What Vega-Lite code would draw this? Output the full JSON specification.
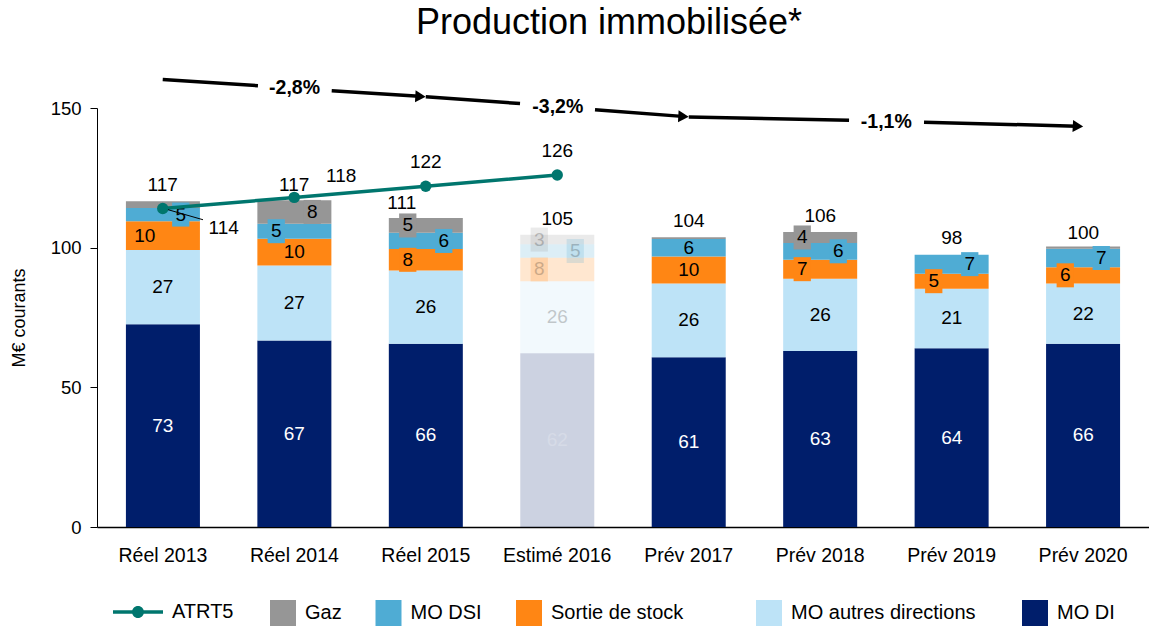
{
  "$schema": "https://vega.github.io/schema/vega-lite/v6.json",
  "width": 1052,
  "height": 419,
  "autosize": {"type": "none"},
  "padding": {"left": 97, "top": 108, "right": 0, "bottom": 99},
  "background": "white",
  "config": {
    "font": "Liberation Sans",
    "view": {"stroke": null},
    "text": {"font": "Liberation Sans"}
  },
  "title": {
    "text": "Production immobilisée*",
    "fontSize": 36,
    "fontWeight": "normal",
    "color": "#000000",
    "font": "Liberation Sans",
    "anchor": "middle",
    "dx": -14,
    "offset": 36
  },
  "datasets": {
    "barres": [
      {"annee": "Réel 2013", "serie": "MO DI", "rang": 1, "valeur": 72.6},
      {"annee": "Réel 2013", "serie": "MO autres directions", "rang": 2, "valeur": 26.6},
      {"annee": "Réel 2013", "serie": "Sortie de stock", "rang": 3, "valeur": 10.3},
      {"annee": "Réel 2013", "serie": "MO DSI", "rang": 4, "valeur": 4.7},
      {"annee": "Réel 2013", "serie": "Gaz", "rang": 5, "valeur": 2.4},
      {"annee": "Réel 2014", "serie": "MO DI", "rang": 1, "valeur": 66.8},
      {"annee": "Réel 2014", "serie": "MO autres directions", "rang": 2, "valeur": 26.8},
      {"annee": "Réel 2014", "serie": "Sortie de stock", "rang": 3, "valeur": 9.6},
      {"annee": "Réel 2014", "serie": "MO DSI", "rang": 4, "valeur": 5.4},
      {"annee": "Réel 2014", "serie": "Gaz", "rang": 5, "valeur": 8.4},
      {"annee": "Réel 2015", "serie": "MO DI", "rang": 1, "valeur": 65.6},
      {"annee": "Réel 2015", "serie": "MO autres directions", "rang": 2, "valeur": 26.2},
      {"annee": "Réel 2015", "serie": "Sortie de stock", "rang": 3, "valeur": 7.7},
      {"annee": "Réel 2015", "serie": "MO DSI", "rang": 4, "valeur": 5.8},
      {"annee": "Réel 2015", "serie": "Gaz", "rang": 5, "valeur": 5.3},
      {"annee": "Estimé 2016", "serie": "MO DI", "rang": 1, "valeur": 62.2},
      {"annee": "Estimé 2016", "serie": "MO autres directions", "rang": 2, "valeur": 25.8},
      {"annee": "Estimé 2016", "serie": "Sortie de stock", "rang": 3, "valeur": 8.4},
      {"annee": "Estimé 2016", "serie": "MO DSI", "rang": 4, "valeur": 4.8},
      {"annee": "Estimé 2016", "serie": "Gaz", "rang": 5, "valeur": 3.4},
      {"annee": "Prév 2017", "serie": "MO DI", "rang": 1, "valeur": 60.8},
      {"annee": "Prév 2017", "serie": "MO autres directions", "rang": 2, "valeur": 26.4},
      {"annee": "Prév 2017", "serie": "Sortie de stock", "rang": 3, "valeur": 9.6},
      {"annee": "Prév 2017", "serie": "MO DSI", "rang": 4, "valeur": 6.3},
      {"annee": "Prév 2017", "serie": "Gaz", "rang": 5, "valeur": 0.6},
      {"annee": "Prév 2018", "serie": "MO DI", "rang": 1, "valeur": 63.0},
      {"annee": "Prév 2018", "serie": "MO autres directions", "rang": 2, "valeur": 25.9},
      {"annee": "Prév 2018", "serie": "Sortie de stock", "rang": 3, "valeur": 6.8},
      {"annee": "Prév 2018", "serie": "MO DSI", "rang": 4, "valeur": 6.0},
      {"annee": "Prév 2018", "serie": "Gaz", "rang": 5, "valeur": 3.9},
      {"annee": "Prév 2019", "serie": "MO DI", "rang": 1, "valeur": 64.0},
      {"annee": "Prév 2019", "serie": "MO autres directions", "rang": 2, "valeur": 21.3},
      {"annee": "Prév 2019", "serie": "Sortie de stock", "rang": 3, "valeur": 5.4},
      {"annee": "Prév 2019", "serie": "MO DSI", "rang": 4, "valeur": 6.8},
      {"annee": "Prév 2019", "serie": "Gaz", "rang": 5, "valeur": 0},
      {"annee": "Prév 2020", "serie": "MO DI", "rang": 1, "valeur": 65.6},
      {"annee": "Prév 2020", "serie": "MO autres directions", "rang": 2, "valeur": 21.6},
      {"annee": "Prév 2020", "serie": "Sortie de stock", "rang": 3, "valeur": 5.8},
      {"annee": "Prév 2020", "serie": "MO DSI", "rang": 4, "valeur": 6.6},
      {"annee": "Prév 2020", "serie": "Gaz", "rang": 5, "valeur": 0.8}
    ],
    "totaux": [
      {"annee": "Réel 2013", "total": 117},
      {"annee": "Réel 2014", "total": 117},
      {"annee": "Réel 2015", "total": 111},
      {"annee": "Estimé 2016", "total": 105},
      {"annee": "Prév 2017", "total": 104},
      {"annee": "Prév 2018", "total": 106},
      {"annee": "Prév 2019", "total": 98},
      {"annee": "Prév 2020", "total": 100}
    ],
    "atrt5": [
      {"annee": "Réel 2013", "serie": "ATRT5", "valeur": 114},
      {"annee": "Réel 2014", "serie": "ATRT5", "valeur": 118},
      {"annee": "Réel 2015", "serie": "ATRT5", "valeur": 122},
      {"annee": "Estimé 2016", "serie": "ATRT5", "valeur": 126}
    ],
    "fleches": [
      {"x0": 0.5, "y0": 160.2, "x1": 1.224, "y1": 158.0},
      {"x0": 1.785, "y0": 156.2, "x1": 2.45, "y1": 154.2},
      {"x0": 2.5, "y0": 154.0, "x1": 3.217, "y1": 151.6},
      {"x0": 3.787, "y0": 149.4, "x1": 4.45, "y1": 147.0},
      {"x0": 4.5, "y0": 146.8, "x1": 5.719, "y1": 145.6},
      {"x0": 6.289, "y0": 144.9, "x1": 7.45, "y1": 143.5}
    ],
    "pointes": [
      {"x": 2.46, "y": 154.1},
      {"x": 4.46, "y": 146.95},
      {"x": 7.46, "y": 143.45}
    ],
    "tendances": [
      {"x": 1.502, "y": 157.0, "texte": "-2,8%"},
      {"x": 3.504, "y": 150.3, "texte": "-3,2%"},
      {"x": 6.002, "y": 145.1, "texte": "-1,1%"}
    ],
    "renvoi": [
      {"x0": 0.54, "y0": 113.6, "x1": 0.806, "y1": 110.0}
    ]
  },
  "layer": [
    {
      "data": {"name": "barres"},
      "mark": {"type": "bar", "strokeWidth": 0},
      "encoding": {
        "x": {
          "field": "annee", "type": "nominal",
          "scale": {"domain": ["Réel 2013", "Réel 2014", "Réel 2015", "Estimé 2016", "Prév 2017", "Prév 2018", "Prév 2019", "Prév 2020"], "paddingInner": 0.437, "paddingOuter": 0.22},
          "axis": {
            "title": null, "labelAngle": 0, "labelFontSize": 19.5, "labelFont": "Liberation Sans",
            "labelColor": "#000000", "ticks": false, "tickSize": 0, "labelPadding": 19,
            "domainColor": "#000000", "domainWidth": 1.5, "grid": false
          }
        },
        "y": {
          "field": "valeur", "type": "quantitative", "stack": "zero",
          "scale": {"domain": [0, 150], "nice": false},
          "axis": {
            "title": "M€ courants", "values": [0, 50, 100, 150], "grid": false,
            "domainColor": "#000000", "domainWidth": 1, "tickColor": "#000000",
            "tickSize": 7, "tickWidth": 1, "labelFontSize": 18.5, "labelColor": "#000000",
            "labelFont": "Liberation Sans", "labelPadding": 9,
            "titleFontSize": 18, "titleFontWeight": "normal", "titleColor": "#000000",
            "titleFont": "Liberation Sans", "titlePadding": 22
          }
        },
        "fill": {
          "field": "serie", "type": "nominal",
          "scale": {
            "domain": ["Gaz", "MO DSI", "Sortie de stock", "MO autres directions", "MO DI"],
            "range": ["#969696", "#4FACD4", "#FF8614", "#BDE3F7", "#001E6B"]
          },
          "legend": {
            "title": null, "orient": "none", "legendX": 173, "legendY": 492,
            "values": ["Gaz", "MO DSI", "Sortie de stock"],
            "direction": "horizontal", "columns": 3, "symbolType": "square",
            "symbolSize": 676, "symbolStrokeWidth": 0, "labelFontSize": 20,
            "labelColor": "#000000", "labelFont": "Liberation Sans", "labelOffset": 9,
            "columnPadding": 33.5, "padding": 0, "labelLimit": 400
          }
        },
        "stroke": {
          "field": "serie", "type": "nominal",
          "scale": {
            "domain": ["MO autres directions", "MO DI"],
            "range": ["#BDE3F7", "#001E6B"]
          },
          "legend": {
            "title": null, "orient": "none", "legendX": 659, "legendY": 492,
            "values": ["MO autres directions", "MO DI"],
            "direction": "horizontal", "columns": 2, "symbolType": "square",
            "symbolSize": 100, "symbolStrokeWidth": 16, "labelFontSize": 20,
            "labelColor": "#000000", "labelFont": "Liberation Sans", "labelOffset": 9,
            "columnPadding": 22, "padding": 0, "labelLimit": 400,
            "encode": {"symbols": {"update": {"fill": {"signal": "scale('stroke', datum.value)"}, "strokeJoin": {"value": "miter"}, "opacity": {"value": 1}}}}
          }
        },
        "order": {"field": "rang", "type": "quantitative"},
        "opacity": {"condition": {"test": "datum.annee === 'Estimé 2016'", "value": 0.2}, "value": 1}
      }
    },
    {
      "data": {"name": "barres"},
      "transform": [
        {"stack": "valeur", "groupby": ["annee"], "sort": [{"field": "rang", "order": "ascending"}], "as": ["v0", "v1"]},
        {"calculate": "(datum.v0 + datum.v1) / 2", "as": "milieu"},
        {"filter": "(datum.serie === 'Gaz' && indexof(['Réel 2015','Estimé 2016','Prév 2018'], datum.annee) >= 0) || (datum.serie === 'Sortie de stock' && indexof(['Réel 2015','Estimé 2016','Prév 2018','Prév 2019','Prév 2020'], datum.annee) >= 0) || (datum.serie === 'MO DSI' && datum.annee === 'Réel 2014')"}
      ],
      "mark": {"type": "point", "shape": "M-0.72,-1H0.72V1H-0.72Z", "size": 576, "filled": true, "strokeWidth": 0, "xOffset": -18},
      "encoding": {
        "x": {"field": "annee", "type": "nominal", "scale": {"domain": ["Réel 2013", "Réel 2014", "Réel 2015", "Estimé 2016", "Prév 2017", "Prév 2018", "Prév 2019", "Prév 2020"]}, "axis": null},
        "y": {"field": "milieu", "type": "quantitative", "scale": {"domain": [0, 150], "nice": false}},
        "fill": {"field": "serie", "type": "nominal"},
        "opacity": {"condition": {"test": "datum.annee === 'Estimé 2016'", "value": 0.2}, "value": 1}
      }
    },
    {
      "data": {"name": "barres"},
      "transform": [
        {"stack": "valeur", "groupby": ["annee"], "sort": [{"field": "rang", "order": "ascending"}], "as": ["v0", "v1"]},
        {"calculate": "(datum.v0 + datum.v1) / 2", "as": "milieu"},
        {"filter": "(datum.serie === 'MO DSI' && indexof(['Réel 2013','Réel 2015','Estimé 2016','Prév 2018','Prév 2019','Prév 2020'], datum.annee) >= 0) || (datum.serie === 'Gaz' && datum.annee === 'Réel 2014')"}
      ],
      "mark": {"type": "point", "shape": "M-0.72,-1H0.72V1H-0.72Z", "size": 576, "filled": true, "strokeWidth": 0, "xOffset": 18},
      "encoding": {
        "x": {"field": "annee", "type": "nominal", "scale": {"domain": ["Réel 2013", "Réel 2014", "Réel 2015", "Estimé 2016", "Prév 2017", "Prév 2018", "Prév 2019", "Prév 2020"]}, "axis": null},
        "y": {"field": "milieu", "type": "quantitative", "scale": {"domain": [0, 150], "nice": false}},
        "fill": {"field": "serie", "type": "nominal"},
        "opacity": {"condition": {"test": "datum.annee === 'Estimé 2016'", "value": 0.2}, "value": 1}
      }
    },
    {
      "data": {"name": "barres"},
      "transform": [
        {"stack": "valeur", "groupby": ["annee"], "sort": [{"field": "rang", "order": "ascending"}], "as": ["v0", "v1"]},
        {"calculate": "(datum.v0 + datum.v1) / 2", "as": "milieu"},
        {"filter": "datum.valeur >= 3"},
        {"filter": "!((datum.serie === 'Gaz' && indexof(['Réel 2015','Estimé 2016','Prév 2018'], datum.annee) >= 0) || (datum.serie === 'Sortie de stock' && indexof(['Réel 2013','Réel 2015','Estimé 2016','Prév 2018','Prév 2019','Prév 2020'], datum.annee) >= 0) || (datum.serie === 'MO DSI' && datum.annee === 'Réel 2014')) && !((datum.serie === 'MO DSI' && indexof(['Réel 2013','Réel 2015','Estimé 2016','Prév 2018','Prév 2019','Prév 2020'], datum.annee) >= 0) || (datum.serie === 'Gaz' && datum.annee === 'Réel 2014'))"}
      ],
      "mark": {"type": "text", "fontSize": 19, "font": "Liberation Sans", "baseline": "middle"},
      "encoding": {
        "x": {"field": "annee", "type": "nominal", "scale": {"domain": ["Réel 2013", "Réel 2014", "Réel 2015", "Estimé 2016", "Prév 2017", "Prév 2018", "Prév 2019", "Prév 2020"]}, "axis": null},
        "y": {"field": "milieu", "type": "quantitative", "scale": {"domain": [0, 150], "nice": false}},
        "text": {"field": "valeur", "type": "quantitative", "format": ".0f"},
        "color": {"condition": {"test": "datum.serie === 'MO DI'", "value": "#FFFFFF"}, "value": "#000000"},
        "opacity": {"condition": {"test": "datum.annee === 'Estimé 2016'", "value": 0.2}, "value": 1}
      }
    },
    {
      "data": {"name": "barres"},
      "transform": [
        {"stack": "valeur", "groupby": ["annee"], "sort": [{"field": "rang", "order": "ascending"}], "as": ["v0", "v1"]},
        {"calculate": "(datum.v0 + datum.v1) / 2", "as": "milieu"},
        {"filter": "(datum.serie === 'Gaz' && indexof(['Réel 2015','Estimé 2016','Prév 2018'], datum.annee) >= 0) || (datum.serie === 'Sortie de stock' && indexof(['Réel 2013','Réel 2015','Estimé 2016','Prév 2018','Prév 2019','Prév 2020'], datum.annee) >= 0) || (datum.serie === 'MO DSI' && datum.annee === 'Réel 2014')"}
      ],
      "mark": {"type": "text", "fontSize": 19, "font": "Liberation Sans", "baseline": "middle", "dx": -18},
      "encoding": {
        "x": {"field": "annee", "type": "nominal", "scale": {"domain": ["Réel 2013", "Réel 2014", "Réel 2015", "Estimé 2016", "Prév 2017", "Prév 2018", "Prév 2019", "Prév 2020"]}, "axis": null},
        "y": {"field": "milieu", "type": "quantitative", "scale": {"domain": [0, 150], "nice": false}},
        "text": {"field": "valeur", "type": "quantitative", "format": ".0f"},
        "color": {"value": "#000000"},
        "opacity": {"condition": {"test": "datum.annee === 'Estimé 2016'", "value": 0.2}, "value": 1}
      }
    },
    {
      "data": {"name": "barres"},
      "transform": [
        {"stack": "valeur", "groupby": ["annee"], "sort": [{"field": "rang", "order": "ascending"}], "as": ["v0", "v1"]},
        {"calculate": "(datum.v0 + datum.v1) / 2", "as": "milieu"},
        {"filter": "(datum.serie === 'MO DSI' && indexof(['Réel 2013','Réel 2015','Estimé 2016','Prév 2018','Prév 2019','Prév 2020'], datum.annee) >= 0) || (datum.serie === 'Gaz' && datum.annee === 'Réel 2014')"}
      ],
      "mark": {"type": "text", "fontSize": 19, "font": "Liberation Sans", "baseline": "middle", "dx": 18},
      "encoding": {
        "x": {"field": "annee", "type": "nominal", "scale": {"domain": ["Réel 2013", "Réel 2014", "Réel 2015", "Estimé 2016", "Prév 2017", "Prév 2018", "Prév 2019", "Prév 2020"]}, "axis": null},
        "y": {"field": "milieu", "type": "quantitative", "scale": {"domain": [0, 150], "nice": false}},
        "text": {"field": "valeur", "type": "quantitative", "format": ".0f"},
        "color": {"value": "#000000"},
        "opacity": {"condition": {"test": "datum.annee === 'Estimé 2016'", "value": 0.2}, "value": 1}
      }
    },
    {
      "data": {"name": "totaux"},
      "transform": [{"filter": "datum.annee !== 'Réel 2015'"}],
      "mark": {"type": "text", "fontSize": 19, "font": "Liberation Sans", "baseline": "alphabetic", "dy": -9, "color": "#000000"},
      "encoding": {
        "x": {"field": "annee", "type": "nominal", "scale": {"domain": ["Réel 2013", "Réel 2014", "Réel 2015", "Estimé 2016", "Prév 2017", "Prév 2018", "Prév 2019", "Prév 2020"]}, "axis": null},
        "y": {"field": "total", "type": "quantitative", "scale": {"domain": [0, 150], "nice": false}},
        "text": {"field": "total", "type": "quantitative"}
      }
    },
    {
      "data": {"name": "totaux"},
      "transform": [{"filter": "datum.annee === 'Réel 2015'"}],
      "mark": {"type": "text", "fontSize": 19, "font": "Liberation Sans", "baseline": "alphabetic", "dy": -8, "dx": -24, "color": "#000000"},
      "encoding": {
        "x": {"field": "annee", "type": "nominal", "scale": {"domain": ["Réel 2013", "Réel 2014", "Réel 2015", "Estimé 2016", "Prév 2017", "Prév 2018", "Prév 2019", "Prév 2020"]}, "axis": null},
        "y": {"field": "total", "type": "quantitative", "scale": {"domain": [0, 150], "nice": false}},
        "text": {"field": "total", "type": "quantitative"}
      }
    },
    {
      "data": {"name": "atrt5"},
      "mark": {"type": "line", "strokeWidth": 3.5},
      "encoding": {
        "x": {"field": "annee", "type": "nominal", "scale": {"domain": ["Réel 2013", "Réel 2014", "Réel 2015", "Estimé 2016", "Prév 2017", "Prév 2018", "Prév 2019", "Prév 2020"]}, "axis": null},
        "y": {"field": "valeur", "type": "quantitative", "scale": {"domain": [0, 150], "nice": false}},
        "color": {
          "field": "serie", "type": "nominal",
          "scale": {"domain": ["ATRT5"], "range": ["#00766E"]},
          "legend": {
            "title": null, "orient": "none", "legendX": 16, "legendY": 479,
            "symbolType": "M-1,-0.07H1V0.07H-1Z M0.24,0A0.24,0.24,0,1,1,-0.24,0A0.24,0.24,0,1,1,0.24,0Z",
            "symbolSize": 2500, "symbolStrokeWidth": 0, "symbolFillColor": "#00766E",
            "labelFontSize": 20, "labelColor": "#000000", "labelFont": "Liberation Sans",
            "labelOffset": 9, "padding": 0, "labelLimit": 400,
            "encode": {"symbols": {"update": {"fill": {"value": "#00766E"}, "strokeWidth": {"value": 0}, "opacity": {"value": 1}}}}
          }
        }
      }
    },
    {
      "data": {"name": "atrt5"},
      "mark": {"type": "point", "filled": true, "size": 130, "opacity": 1, "color": "#00766E"},
      "encoding": {
        "x": {"field": "annee", "type": "nominal", "scale": {"domain": ["Réel 2013", "Réel 2014", "Réel 2015", "Estimé 2016", "Prév 2017", "Prév 2018", "Prév 2019", "Prév 2020"]}, "axis": null},
        "y": {"field": "valeur", "type": "quantitative", "scale": {"domain": [0, 150], "nice": false}}
      }
    },
    {
      "data": {"name": "atrt5"},
      "transform": [{"filter": "datum.annee === 'Réel 2015' || datum.annee === 'Estimé 2016'"}],
      "mark": {"type": "text", "fontSize": 19, "font": "Liberation Sans", "baseline": "alphabetic", "dy": -18, "color": "#000000"},
      "encoding": {
        "x": {"field": "annee", "type": "nominal", "scale": {"domain": ["Réel 2013", "Réel 2014", "Réel 2015", "Estimé 2016", "Prév 2017", "Prév 2018", "Prév 2019", "Prév 2020"]}, "axis": null},
        "y": {"field": "valeur", "type": "quantitative", "scale": {"domain": [0, 150], "nice": false}},
        "text": {"field": "valeur", "type": "quantitative"}
      }
    },
    {
      "data": {"name": "atrt5"},
      "transform": [{"filter": "datum.annee === 'Réel 2013'"}],
      "mark": {"type": "text", "fontSize": 19, "font": "Liberation Sans", "baseline": "alphabetic", "dx": 61, "dy": 25, "color": "#000000"},
      "encoding": {
        "x": {"field": "annee", "type": "nominal", "scale": {"domain": ["Réel 2013", "Réel 2014", "Réel 2015", "Estimé 2016", "Prév 2017", "Prév 2018", "Prév 2019", "Prév 2020"]}, "axis": null},
        "y": {"field": "valeur", "type": "quantitative", "scale": {"domain": [0, 150], "nice": false}},
        "text": {"field": "valeur", "type": "quantitative"}
      }
    },
    {
      "data": {"name": "atrt5"},
      "transform": [{"filter": "datum.annee === 'Réel 2014'"}],
      "mark": {"type": "text", "fontSize": 19, "font": "Liberation Sans", "baseline": "alphabetic", "dx": 47, "dy": -15, "color": "#000000"},
      "encoding": {
        "x": {"field": "annee", "type": "nominal", "scale": {"domain": ["Réel 2013", "Réel 2014", "Réel 2015", "Estimé 2016", "Prév 2017", "Prév 2018", "Prév 2019", "Prév 2020"]}, "axis": null},
        "y": {"field": "valeur", "type": "quantitative", "scale": {"domain": [0, 150], "nice": false}},
        "text": {"field": "valeur", "type": "quantitative"}
      }
    },
    {
      "data": {"name": "fleches"},
      "mark": {"type": "rule", "strokeWidth": 3.5, "color": "#000000"},
      "encoding": {
        "x": {"field": "x0", "type": "quantitative", "scale": {"domain": [0, 8], "nice": false, "zero": false}, "axis": null},
        "x2": {"field": "x1"},
        "y": {"field": "y0", "type": "quantitative", "scale": {"domain": [0, 150], "nice": false}},
        "y2": {"field": "y1"}
      }
    },
    {
      "data": {"name": "renvoi"},
      "mark": {"type": "rule", "strokeWidth": 1, "color": "#000000"},
      "encoding": {
        "x": {"field": "x0", "type": "quantitative", "scale": {"domain": [0, 8], "nice": false, "zero": false}, "axis": null},
        "x2": {"field": "x1"},
        "y": {"field": "y0", "type": "quantitative", "scale": {"domain": [0, 150], "nice": false}},
        "y2": {"field": "y1"}
      }
    },
    {
      "data": {"name": "pointes"},
      "mark": {"type": "point", "shape": "triangle-right", "filled": true, "size": 144, "color": "#000000", "opacity": 1, "angle": 3},
      "encoding": {
        "x": {"field": "x", "type": "quantitative", "scale": {"domain": [0, 8], "nice": false, "zero": false}, "axis": null},
        "y": {"field": "y", "type": "quantitative", "scale": {"domain": [0, 150], "nice": false}}
      }
    },
    {
      "data": {"name": "tendances"},
      "mark": {"type": "text", "fontSize": 19.5, "fontWeight": "bold", "font": "Liberation Sans", "baseline": "middle", "color": "#000000"},
      "encoding": {
        "x": {"field": "x", "type": "quantitative", "scale": {"domain": [0, 8], "nice": false, "zero": false}, "axis": null},
        "y": {"field": "y", "type": "quantitative", "scale": {"domain": [0, 150], "nice": false}},
        "text": {"field": "texte", "type": "nominal"}
      }
    }
  ],
  "resolve": {"scale": {"x": "independent"}}
}
